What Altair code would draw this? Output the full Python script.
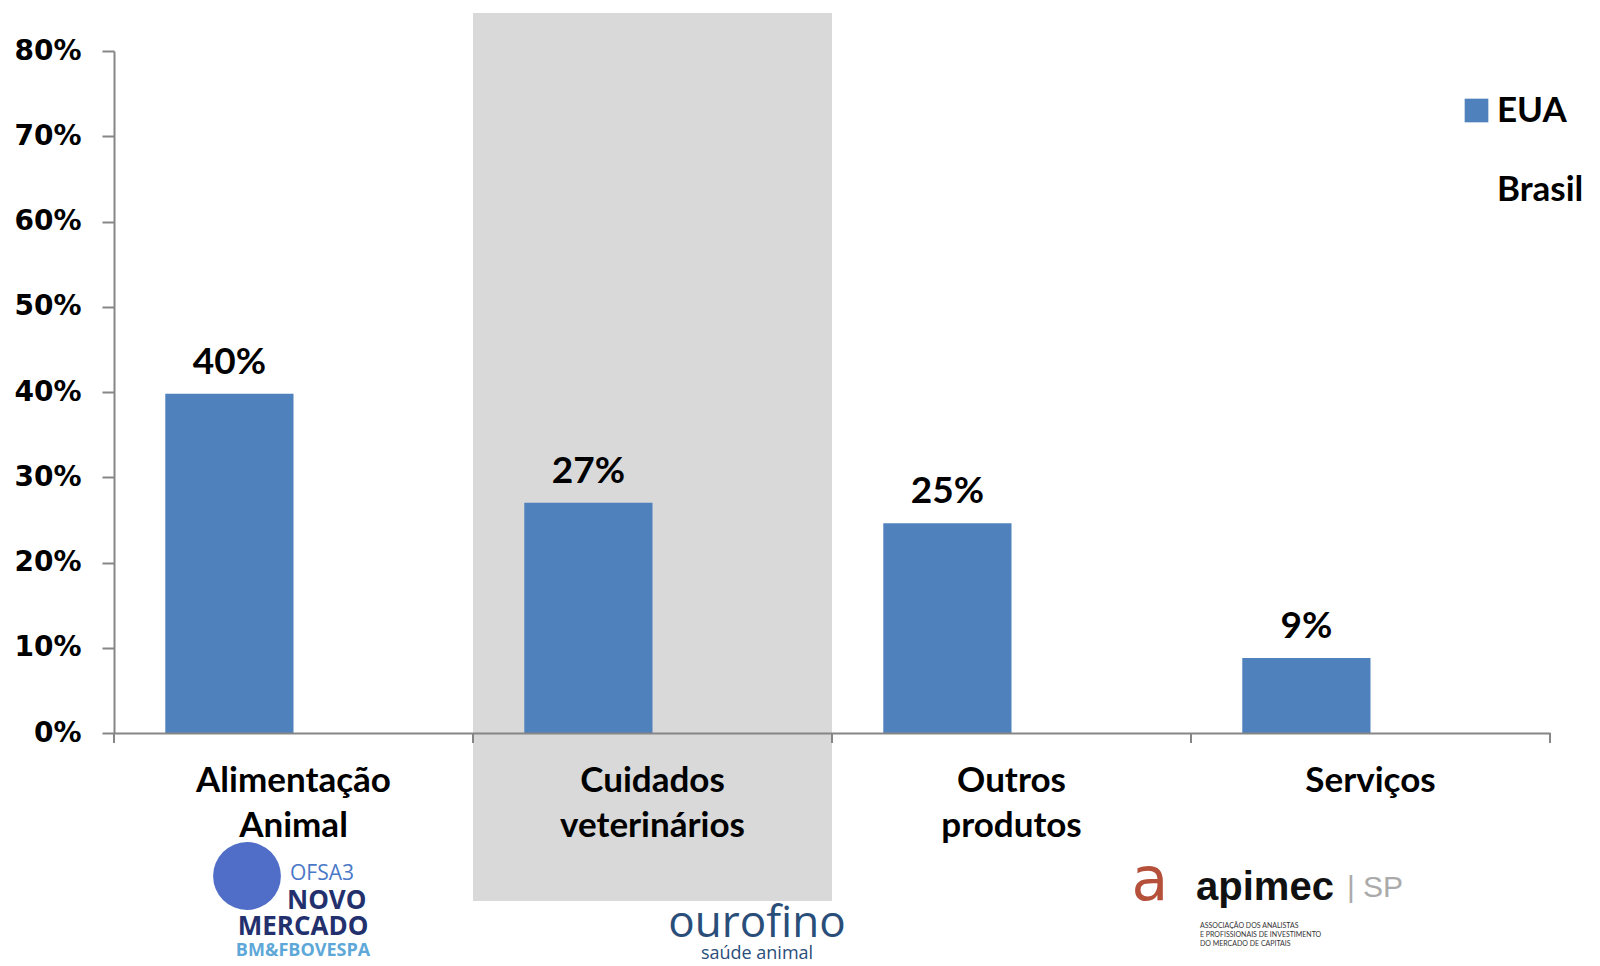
import altair as alt
import pandas as pd

categories = ["Alimentação\nAnimal", "Cuidados\nveterinários", "Outros\nprodutos", "Serviços"]
series = ["EUA", "Brasil"]
eua_values = [0.398, 0.27, 0.246, 0.088]
highlighted = "Cuidados\nveterinários"

BLUE = "#4F81BD"
AXIS = "#868686"
W, H = 1436, 682
OX, OY = 114, 51  # plot origin on the page

bars_df = pd.DataFrame({"cat": categories, "serie": ["EUA"] * 4, "val": eua_values})
cats_df = pd.DataFrame({"cat": categories})

xscale = alt.Scale(domain=categories, paddingInner=0, paddingOuter=0)
xoff = alt.Scale(domain=series, paddingInner=0, paddingOuter=0.4)

X = alt.X("cat:N", scale=xscale, sort=categories,
          axis=alt.Axis(title=None, labelAngle=0, ticks=False, domainColor=AXIS, domainWidth=2,
                        bandPosition=0.5, labelAlign="center",
                        labelFont="Lato", labelFontWeight="bold", labelFontSize=35, labelColor="black",
                        labelLineHeight=45, labelPadding=30, labelBaseline="top", labelLimit=500,
                        labelExpr="split(datum.label, '\\n')", zindex=1))
Y = alt.Y("val:Q", scale=alt.Scale(domain=[0, 0.8], nice=False),
          axis=alt.Axis(title=None, format=".0%", values=[i / 10 for i in range(9)], grid=False,
                        domainColor=AXIS, domainWidth=2, tickColor=AXIS, tickWidth=2, tickSize=12,
                        labelFont="DejaVu Sans", labelFontWeight="bold", labelFontSize=28,
                        labelColor="black", labelPadding=21, zindex=1))

shade = alt.Chart(cats_df).transform_filter(alt.datum.cat == highlighted).mark_rect(
    color="#D9D9D9").encode(x=alt.X("cat:N", scale=xscale, sort=categories), y=alt.value(-38), y2=alt.value(850))

bars = alt.Chart(bars_df).mark_bar().encode(
    x=X, xOffset=alt.XOffset("serie:N", scale=xoff, sort=series), y=Y,
    color=alt.Color("serie:N", scale=alt.Scale(domain=series, range=[BLUE, "rgba(0,0,0,0)"]),
                    legend=alt.Legend(title=None, orient="none", legendX=1345, legendY=42,
                                      symbolType="square", symbolSize=560, symbolStrokeWidth=0,
                                      labelFont="Lato", labelFontWeight="bold", labelFontSize=35,
                                      labelColor="black", labelOffset=3, rowPadding=43, labelLimit=300)))

labels = alt.Chart(bars_df).mark_text(font="Lato", fontWeight="bold", fontSize=37, color="black",
                                      baseline="alphabetic", dy=-20).encode(
    x=alt.X("cat:N", scale=xscale, sort=categories),
    xOffset=alt.XOffset("serie:N", scale=xoff, sort=series),
    y=alt.Y("val:Q", scale=alt.Scale(domain=[0, 0.8], nice=False)),
    text=alt.Text("val:Q", format=".0%"))

ticks = alt.Chart(cats_df).mark_rule(color=AXIS, strokeWidth=2).encode(
    x=alt.X("cat:N", scale=xscale, sort=categories, bandPosition=0), y=alt.value(H), y2=alt.value(H + 10))
tick_end = alt.Chart(cats_df).transform_filter(alt.datum.cat == categories[-1]).mark_rule(
    color=AXIS, strokeWidth=2).encode(
    x=alt.X("cat:N", scale=xscale, sort=categories, bandPosition=1), y=alt.value(H), y2=alt.value(H + 10))

one = pd.DataFrame({"k": [0]})


def logo_text(text, x, y, size, color, weight="bold", font="Lato", align="center"):
    return alt.Chart(one).mark_text(text=text, font=font, fontSize=size, fontWeight=weight,
                                    color=color, align=align, baseline="middle").encode(
        x=alt.value(x - OX), y=alt.value(y - OY))


globe = alt.Chart(one).mark_point(shape="circle", filled=True, size=4600, color="#4766C4", opacity=0.95).encode(
    x=alt.value(247 - OX), y=alt.value(876 - OY))

logos = [
    globe,
    logo_text("OFSA3", 290, 874, 21, "#4A78C8", weight="normal", font="Open Sans", align="left"),
    logo_text("NOVO", 287, 901, 26, "#23306E", font="Open Sans", align="left"),
    logo_text("MERCADO", 303, 927, 26, "#23306E", font="Open Sans"),
    logo_text("BM&FBOVESPA", 303, 951, 18, "#5DA8D8", font="Open Sans"),
    logo_text("ourofino", 757, 924, 44, "#2A4E7A", weight="normal", font="Open Sans"),
    logo_text("saúde animal", 757, 954, 18, "#2A4E7A", weight="normal", font="Open Sans"),
    logo_text("a", 1150, 882, 60, "#B5503A", weight="normal", font="DejaVu Sans"),
    logo_text("apimec", 1265, 888, 40, "#111111", font="Liberation Sans"),
    logo_text("| SP", 1375, 888, 30, "#AAAAAA", weight="normal", font="Liberation Sans"),
    logo_text("ASSOCIAÇÃO DOS ANALISTAS", 1200, 926, 7, "#333333", weight="normal", align="left"),
    logo_text("E PROFISSIONAIS DE INVESTIMENTO", 1200, 935, 7, "#333333", weight="normal", align="left"),
    logo_text("DO MERCADO DE CAPITAIS", 1200, 944, 7, "#333333", weight="normal", align="left"),
]

chart = alt.layer(shade, bars, labels, ticks, tick_end, *logos).properties(
    width=W, height=H,
    autosize=alt.AutoSizeParams(type="none"),
    padding={"left": OX - 8, "top": OY - 8, "right": 42, "bottom": 230},
).configure_view(stroke=None)

chart.save("out.html", embed_options={"renderer": "svg", "actions": False})
